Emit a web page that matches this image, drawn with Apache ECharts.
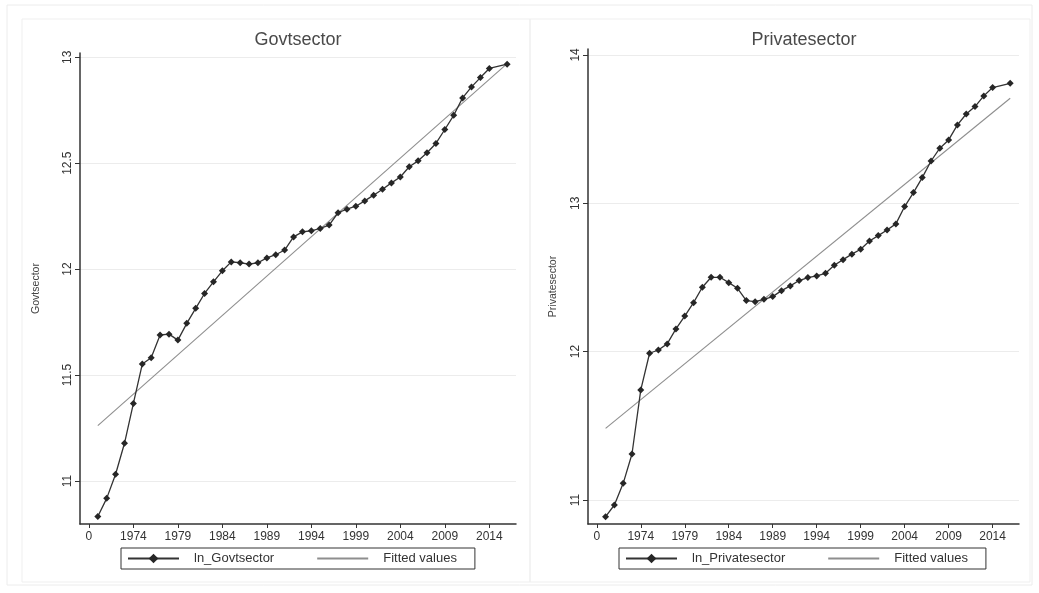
<!DOCTYPE html>
<html>
<head>
<meta charset="utf-8">
<script src="https://cdn.jsdelivr.net/npm/echarts@6/dist/echarts.min.js"></script>
<style>
  html, body { margin: 0; padding: 0; background: #fff; }
  #chart { width: 1039px; height: 593px; }
</style>
</head>
<body>
<div id="chart"></div>
<script>
// years with data (no 2015 observation in the source)
const years = [1970, 1971, 1972, 1973, 1974, 1975, 1976, 1977, 1978, 1979,
  1980, 1981, 1982, 1983, 1984, 1985, 1986, 1987, 1988, 1989,
  1990, 1991, 1992, 1993, 1994, 1995, 1996, 1997, 1998, 1999,
  2000, 2001, 2002, 2003, 2004, 2005, 2006, 2007, 2008, 2009,
  2010, 2011, 2012, 2013, 2014, 2016];

const lnGovtsector = [10.832, 10.918, 11.032, 11.178, 11.366, 11.552, 11.582, 11.689, 11.693, 11.665,
  11.744, 11.815, 11.885, 11.940, 11.992, 12.034, 12.030, 12.024, 12.030, 12.053,
  12.068, 12.090, 12.152, 12.176, 12.181, 12.192, 12.208, 12.266, 12.283, 12.297,
  12.322, 12.349, 12.377, 12.407, 12.435, 12.483, 12.511, 12.549, 12.593, 12.659,
  12.726, 12.808, 12.860, 12.904, 12.947, 12.967];

const lnPrivatesector = [10.887, 10.966, 11.112, 11.310, 11.742, 11.989, 12.011, 12.052, 12.153, 12.240,
  12.330, 12.434, 12.501, 12.501, 12.465, 12.427, 12.344, 12.337, 12.353, 12.371,
  12.411, 12.443, 12.479, 12.499, 12.510, 12.528, 12.582, 12.620, 12.657, 12.690,
  12.746, 12.782, 12.820, 12.861, 12.978, 13.072, 13.173, 13.285, 13.371, 13.427,
  13.528, 13.602, 13.652, 13.724, 13.780, 13.809];

// fitted (straight) lines, end points
const fitYears = [1970, 2016];
const govtFitted = [11.261, 12.970];
const privateFitted = [11.483, 13.708];

const xTickValues = [1969, 1974, 1979, 1984, 1989, 1994, 1999, 2004, 2009, 2014];
const xTickLabels = ['0', '1974', '1979', '1984', '1989', '1994', '1999', '2004', '2009', '2014'];
const govtTicks = [11, 11.5, 12, 12.5, 13];
const privateTicks = [11, 12, 13, 14];

const pairs = (xs, ys) => xs.map((x, i) => [x, ys[i]]);

const FONT = 'Liberation Sans, Arial, sans-serif';
const AXIS_COLOR = '#333';

function makeXAxis(gridIndex) {
  return {
    type: 'value',
    gridIndex: gridIndex,
    min: 1968,
    max: 2017,
    axisLine: { show: true, onZero: false, lineStyle: { color: AXIS_COLOR, width: 1.5 } },
    axisTick: { show: true, length: 4, customValues: xTickValues, lineStyle: { color: AXIS_COLOR } },
    axisLabel: {
      customValues: xTickValues,
      margin: 7,
      color: '#333',
      fontSize: 12,
      fontFamily: FONT,
      formatter: (v) => xTickLabels[xTickValues.indexOf(v)]
    },
    splitLine: { show: false }
  };
}

function makeYAxis(gridIndex, min, max, ticks, name, nameGap) {
  return {
    type: 'value',
    gridIndex: gridIndex,
    min: min,
    max: max,
    name: name,
    nameLocation: 'middle',
    nameGap: nameGap,
    nameTextStyle: { color: '#444', fontSize: 10.5, fontFamily: FONT },
    axisLine: { show: true, onZero: false, lineStyle: { color: AXIS_COLOR, width: 1.5 } },
    axisTick: { show: true, length: 5, customValues: ticks, lineStyle: { color: AXIS_COLOR } },
    axisLabel: {
      customValues: ticks,
      rotate: 90,
      margin: 6,
      color: '#333',
      fontSize: 12,
      fontFamily: FONT
    },
    splitLine: { show: true, lineStyle: { color: '#ececec', width: 1 } }
  };
}

function dataSeries(name, idx, values) {
  return {
    name: name,
    type: 'line',
    xAxisIndex: idx,
    yAxisIndex: idx,
    data: pairs(years, values),
    symbol: 'diamond',
    symbolSize: 7,
    showSymbol: true,
    color: '#262626',
    lineStyle: { color: '#333', width: 1.3 },
    z: 3
  };
}

function fittedSeries(idx, values) {
  return {
    name: 'Fitted values',
    type: 'line',
    xAxisIndex: idx,
    yAxisIndex: idx,
    data: pairs(fitYears, values),
    symbol: 'none',
    color: '#8e8e8e',
    lineStyle: { color: '#8e8e8e', width: 1.1 },
    z: 2
  };
}

function makeLegend(left, mainName) {
  return {
    left: left,
    top: 548,
    orient: 'horizontal',
    data: [
      { name: mainName },
      { name: 'Fitted values', itemStyle: { opacity: 0 } }
    ],
    itemWidth: 51,
    itemHeight: 12,
    itemGap: 42,
    padding: [4, 18, 4, 6],
    borderColor: '#333',
    borderWidth: 1,
    selectedMode: false,
    textStyle: { color: '#333', fontSize: 13, fontFamily: FONT, padding: [0, 0, 0, 10] }
  };
}

const chart = echarts.init(document.getElementById('chart'));

const option = {
  animation: false,
  backgroundColor: '#fff',
  title: [
    { text: 'Govtsector', left: 298, top: 31, textAlign: 'center', padding: 0,
      textStyle: { color: '#4a4a4a', fontSize: 18, fontWeight: 'normal', fontFamily: FONT } },
    { text: 'Privatesector', left: 804, top: 31, textAlign: 'center', padding: 0,
      textStyle: { color: '#4a4a4a', fontSize: 18, fontWeight: 'normal', fontFamily: FONT } }
  ],
  grid: [
    { left: 80, right: 523, top: 53, bottom: 69 },
    { left: 588, right: 20, top: 49, bottom: 69 }
  ],
  xAxis: [makeXAxis(0), makeXAxis(1)],
  yAxis: [
    makeYAxis(0, 10.797, 13.02, govtTicks, 'Govtsector', 38),
    makeYAxis(1, 10.838, 14.04, privateTicks, 'Privatesector', 29)
  ],
  legend: [
    makeLegend(121, 'ln_Govtsector'),
    makeLegend(619, 'ln_Privatesector')
  ],
  graphic: [
    { type: 'rect', shape: { x: 7, y: 5, width: 1025, height: 580 }, silent: true,
      style: { fill: 'none', stroke: '#ececec', lineWidth: 1 }, z: -10 },
    { type: 'rect', shape: { x: 22, y: 19, width: 508, height: 563 }, silent: true,
      style: { fill: 'none', stroke: '#efefef', lineWidth: 1 }, z: -10 },
    { type: 'rect', shape: { x: 530, y: 19, width: 500, height: 563 }, silent: true,
      style: { fill: 'none', stroke: '#efefef', lineWidth: 1 }, z: -10 }
  ],
  series: [
    fittedSeries(0, govtFitted),
    dataSeries('ln_Govtsector', 0, lnGovtsector),
    fittedSeries(1, privateFitted),
    dataSeries('ln_Privatesector', 1, lnPrivatesector)
  ]
};

chart.setOption(option);
</script>
</body>
</html>
